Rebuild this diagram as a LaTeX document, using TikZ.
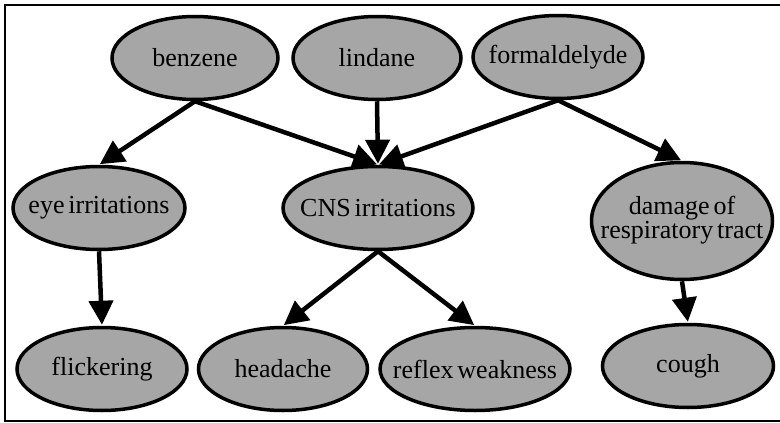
\documentclass[tikz,border=0pt]{standalone}
\usepackage{fontspec}
\setmainfont{Liberation Serif}
\usetikzlibrary{shapes.geometric,arrows.meta}
\definecolor{nodegray}{HTML}{A6A6A6}
\tikzset{
  ev/.style={ellipse, draw=black, line width=3.5pt, fill=nodegray, inner sep=0pt,
    minimum width=#1, minimum height=83pt,
    font=\fontsize{26}{25}\selectfont},
  ev/.default=170pt,
  edge/.style={line width=4.5pt, -{Triangle[length=24pt,width=24pt]}, shorten >=1pt},
}
\newcommand{\zt}[1]{\makebox[0pt]{\spaceskip=0.15em\relax #1}}
\begin{document}
\begin{tikzpicture}[x=1pt,y=-1pt]
\useasboundingbox (0,0) rectangle (780,423);
\draw[line width=2pt] (790,5) -- (5,5) -- (5,421) -- (790,421);
\node[ev=166pt] (benzene) at (195,58) {\zt{benzene}};
\node[ev=168pt] (lindane) at (377,58) {\zt{lindane}};
\node[ev=170pt] (formal) at (558,57) {\zt{formaldelyde}};
\node[ev=172pt] (eye) at (99,208) {\zt{eye irritations}};
\node[ev=190pt] (cns) at (378,208) {\zt{CNS irritations}};
\node[ev=181pt, minimum height=117pt] (damage) at (682,221) {\zt{\begin{tabular}{@{}c@{}}damage of\\[-1pt]respiratory tract\end{tabular}}};
\node[ev=170pt] (flicker) at (102,369) {\zt{flickering}};
\node[ev=169pt] (headache) at (283,369) {\zt{headache}};
\node[ev=190pt] (reflex) at (475,369) {\zt{reflex weakness}};
\node[ev=171pt] (cough) at (688,366) {\zt{cough}};
\draw[edge] (benzene.south) -- (eye.north);
\draw[edge] (benzene.south) -- (cns.north);
\draw[edge] (lindane.south) -- (cns.north);
\draw[edge] (formal.south) -- (cns.north);
\draw[edge] (formal.south) -- (damage.north);
\draw[edge] (eye.south) -- (flicker.north);
\draw[edge] (cns.south) -- (headache.north);
\draw[edge] (cns.south) -- (reflex.north);
\draw[edge] (damage.south) -- (cough.north);
\end{tikzpicture}
\end{document}
